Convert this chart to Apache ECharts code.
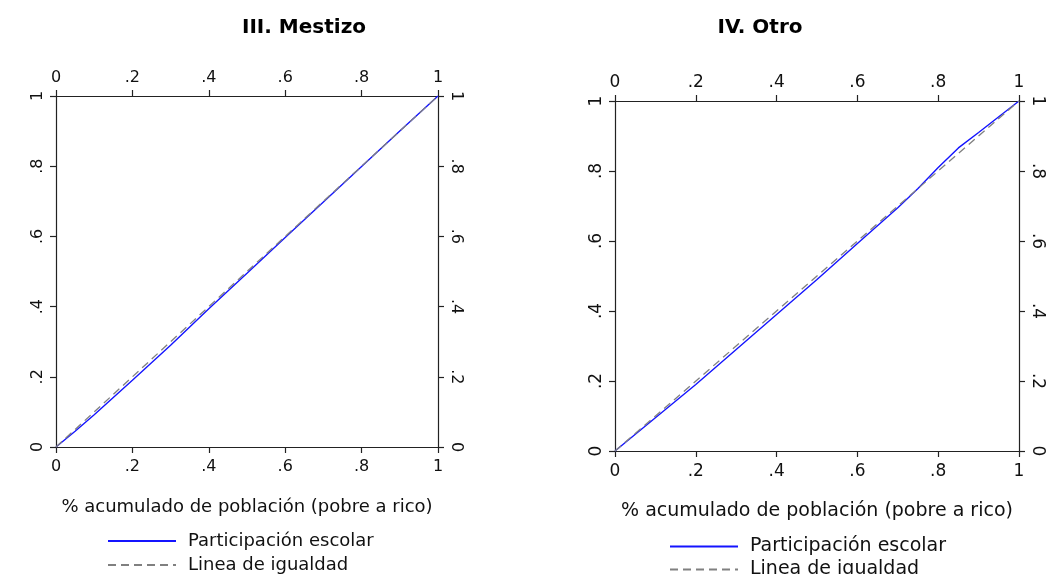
<!DOCTYPE html>
<html>
<head>
<meta charset="utf-8">
<script src="https://cdn.jsdelivr.net/npm/echarts@6/dist/echarts.min.js"></script>
<style>
  html, body { margin: 0; padding: 0; background: #fff; }
  #chart { width: 1046px; height: 574px; }
</style>
</head>
<body>
<div id="chart"></div>
<script>
// Cumulative population share (poorest to richest)
const popShare = [0, 0.05, 0.1, 0.2, 0.3, 0.4, 0.5, 0.6, 0.7, 0.8, 0.9, 1];
// Concentration curve of school participation, mestizo group
const mestizoShare = [0, 0.045, 0.092, 0.19, 0.29, 0.394, 0.495, 0.597, 0.698, 0.799, 0.9, 1];

const popShareOtro = [0, 0.1, 0.2, 0.3, 0.4, 0.5, 0.6, 0.7, 0.75, 0.8, 0.85, 0.9, 1];
// Concentration curve of school participation, other group
const otroShare = [0, 0.095, 0.19, 0.29, 0.39, 0.49, 0.593, 0.695, 0.75, 0.81, 0.866, 0.91, 1];

// Line of equality
const equalityX = [0, 1];
const equalityY = [0, 1];

const tickValues = [0, 0.2, 0.4, 0.6, 0.8, 1];
const panelTitles = ['III. Mestizo', 'IV. Otro'];
const xAxisTitle = '% acumulado de población (pobre a rico)';
const seriesNames = ['Participación escolar', 'Linea de igualdad'];

const FONT = 'DejaVu Sans';
const AXIS_COLOR = '#222';

function tickLabel(v) {
  if (v === 0) return '0';
  if (v === 1) return '1';
  return '.' + Math.round(v * 10);
}

function pairs(xs, ys) {
  return xs.map((x, i) => [x, ys[i]]);
}

function xAxisDef(gridIndex, position, fontSize, titleSize) {
  const ax = {
    type: 'value', gridIndex, position, min: 0, max: 1, interval: 0.2,
    axisLine: { show: true, onZero: false, lineStyle: { color: AXIS_COLOR, width: 1.2 } },
    axisTick: { show: true, inside: false, length: 6, lineStyle: { color: AXIS_COLOR, width: 1.2 } },
    axisLabel: { formatter: tickLabel, color: '#111', fontFamily: FONT, fontSize,
                 margin: position === 'top' ? 10 : 12 },
    splitLine: { show: false }
  };
  if (titleSize) {
    ax.name = xAxisTitle;
    ax.nameLocation = 'middle';
    ax.nameGap = 51;
    ax.nameTextStyle = { color: '#111', fontFamily: FONT, fontSize: titleSize };
  }
  return ax;
}

function yAxisDef(gridIndex, position, fontSize) {
  return {
    type: 'value', gridIndex, position, min: 0, max: 1, interval: 0.2,
    axisLine: { show: true, onZero: false, lineStyle: { color: AXIS_COLOR, width: 1.2 } },
    axisTick: { show: true, inside: false, length: 6, lineStyle: { color: AXIS_COLOR, width: 1.2 } },
    axisLabel: {
      formatter: tickLabel, color: '#111', fontFamily: FONT, fontSize,
      rotate: position === 'left' ? 90 : -90, margin: 10
    },
    splitLine: { show: false }
  };
}

function curveSeries(name, xIdx, yIdx, data) {
  return {
    name, type: 'line', xAxisIndex: xIdx, yAxisIndex: yIdx, data,
    showSymbol: false, symbol: 'none', smooth: false, z: 2,
    lineStyle: { color: '#1414ff', width: 1.4 }, itemStyle: { color: '#1414ff' }
  };
}

function equalitySeries(name, xIdx, yIdx, data) {
  return {
    name, type: 'line', xAxisIndex: xIdx, yAxisIndex: yIdx, data,
    showSymbol: false, symbol: 'none', z: 3,
    lineStyle: { color: '#808080', width: 1.3, type: [8, 5] }, itemStyle: { color: '#808080' }
  };
}

function legendDef(left, top, fontSize, gap) {
  return {
    left, top, height: 60, padding: 0,
    orient: 'vertical', itemWidth: 68, itemHeight: 14, itemGap: gap,
    data: seriesNames,
    selectedMode: false,
    itemStyle: { opacity: 0 },
    textStyle: { color: '#111', fontFamily: FONT, fontSize, padding: [0, 0, 0, 7] }
  };
}

const chart = echarts.init(document.getElementById('chart'), null, { renderer: 'canvas' });

chart.setOption({
  backgroundColor: '#fff',
  animation: false,
  title: [
    { text: panelTitles[0], left: 299, top: 13, textAlign: 'center',
      textStyle: { fontFamily: FONT, fontWeight: 'bold', fontSize: 20, color: '#000' } },
    { text: panelTitles[1], left: 755, top: 13, textAlign: 'center',
      textStyle: { fontFamily: FONT, fontWeight: 'bold', fontSize: 20, color: '#000' } }
  ],
  grid: [
    { left: 56, top: 96, width: 382, height: 351, containLabel: false },
    { left: 615, top: 101, width: 406, height: 350, containLabel: false }
  ],
  xAxis: [
    xAxisDef(0, 'bottom', 16, 18),
    xAxisDef(0, 'top', 16, 0),
    xAxisDef(1, 'bottom', 17, 19),
    xAxisDef(1, 'top', 17, 0)
  ],
  yAxis: [
    yAxisDef(0, 'left', 16),
    yAxisDef(0, 'right', 16),
    yAxisDef(1, 'left', 17),
    yAxisDef(1, 'right', 17)
  ],
  legend: [
    legendDef(107, 532, 18, 6),
    legendDef(669, 537, 19, 4)
  ],
  series: [
    curveSeries(seriesNames[0], 0, 0, pairs(popShare, mestizoShare)),
    equalitySeries(seriesNames[1], 0, 0, pairs(equalityX, equalityY)),
    curveSeries(seriesNames[0], 2, 2, pairs(popShareOtro, otroShare)),
    equalitySeries(seriesNames[1], 2, 2, pairs(equalityX, equalityY))
  ]
});
</script>
</body>
</html>
